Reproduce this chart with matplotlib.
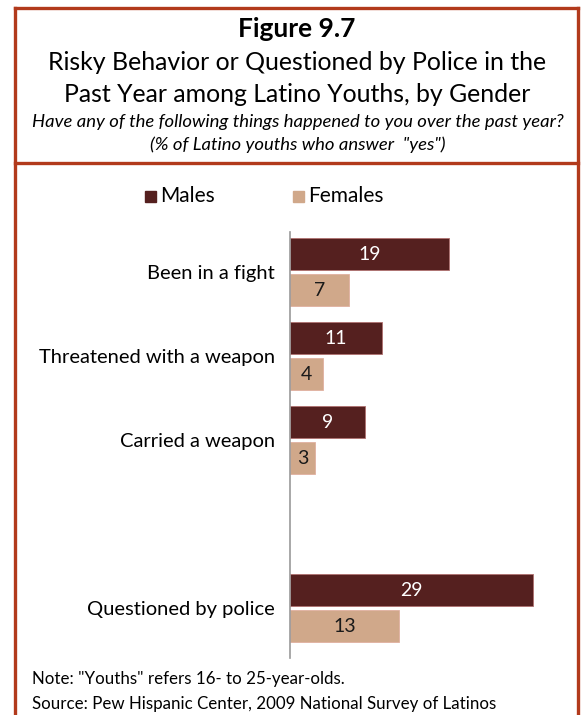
import matplotlib
matplotlib.use("Agg")
import matplotlib.pyplot as plt
from matplotlib.lines import Line2D
from matplotlib.patches import Rectangle

categories = ["Been in a fight", "Threatened with a weapon", "Carried a weapon", "Questioned by police"]
positions = [0, 1, 2, 4]
males = [19, 11, 9, 29]
females = [7, 4, 3, 13]

MALE_C = "#55201F"
FEMALE_C = "#D0A88A"
BORDER_C = "#B23A1C"
FONT = "Lato"

W, H = 581, 715
fig = plt.figure(figsize=(W / 100, H / 100), dpi=100)

def fx(px):
    return px / W

def fy(py):
    return 1 - py / H

# border lines
for (x0, y0, x1, y1) in [(15, 8, 15, 720), (578, 8, 578, 720), (15, 8, 578, 8), (15, 163, 578, 163)]:
    fig.add_artist(Line2D([fx(x0), fx(x1)], [fy(y0), fy(y1)], color=BORDER_C, lw=2.4,
                          transform=fig.transFigure, solid_capstyle="projecting"))

# titles
fig.text(fx(297), fy(29), "Figure 9.7", ha="center", va="center", fontsize=19, fontweight="bold", family=FONT)
fig.text(fx(297), fy(62), "Risky Behavior or Questioned by Police in the", ha="center", va="center", fontsize=17.9, family=FONT)
fig.text(fx(297), fy(94), "Past Year among Latino Youths, by Gender", ha="center", va="center", fontsize=17.9, family=FONT)
fig.text(fx(298), fy(122), "Have any of the following things happened to you over the past year?", ha="center", va="center",
         fontsize=13.3, style="italic", family=FONT)
fig.text(fx(298), fy(145), '(% of Latino youths who answer  "yes")', ha="center", va="center",
         fontsize=13.3, style="italic", family=FONT)

# legend
fig.add_artist(Rectangle((fx(145), fy(202)), fx(11), 11 / H, color=MALE_C, transform=fig.transFigure))
fig.text(fx(160), fy(196), "Males", ha="left", va="center", fontsize=15, family=FONT)
fig.add_artist(Rectangle((fx(293), fy(202)), fx(11), 11 / H, color=FEMALE_C, transform=fig.transFigure))
fig.text(fx(308), fy(196), "Females", ha="left", va="center", fontsize=15, family=FONT)

# axes
px_per_unit = (449 - 290) / 19
ax_left, ax_top, ax_bottom = 290, 232, 658
ax_w = 30 * px_per_unit
ax = fig.add_axes([fx(ax_left), fy(ax_bottom), fx(ax_w), (ax_bottom - ax_top) / H])
ax.set_xlim(0, 30)
unit = 84.0
top_units = (272.5 - ax_top) / unit
bot_units = (ax_bottom - 608) / unit
ax.set_ylim(4 + bot_units, -top_units)

bh = 32 / unit
off = 18 / unit
ym = [p - off for p in positions]
yf = [p + off for p in positions]
ax.barh(ym, males, height=bh, color=MALE_C, edgecolor="#B07070", linewidth=0.6)
ax.barh(yf, females, height=bh, color=FEMALE_C, edgecolor="#E0B0A0", linewidth=0.6)
for y, v in zip(ym, males):
    ax.text(v / 2, y, str(v), ha="center", va="center", color="white", fontsize=14, family=FONT)
for y, v in zip(yf, females):
    ax.text(v / 2, y, str(v), ha="center", va="center", color="#1a1a1a", fontsize=14, family=FONT)

ax.set_yticks(positions)
ax.set_yticklabels(categories, fontsize=14.5, family=FONT)
ax.tick_params(axis="y", length=0, pad=11)
ax.set_xticks([])
for s in ["top", "right", "bottom"]:
    ax.spines[s].set_visible(False)
ax.spines["left"].set_color("#999999")
ax.spines["left"].set_linewidth(1.2)

# notes
fig.text(fx(32), fy(679), 'Note: "Youths" refers 16- to 25-year-olds.', ha="left", va="center", fontsize=12.2, family=FONT)
fig.text(fx(32), fy(704), "Source: Pew Hispanic Center, 2009 National Survey of Latinos", ha="left", va="center",
         fontsize=12.2, family=FONT)

fig.savefig("out.png", dpi=100)
